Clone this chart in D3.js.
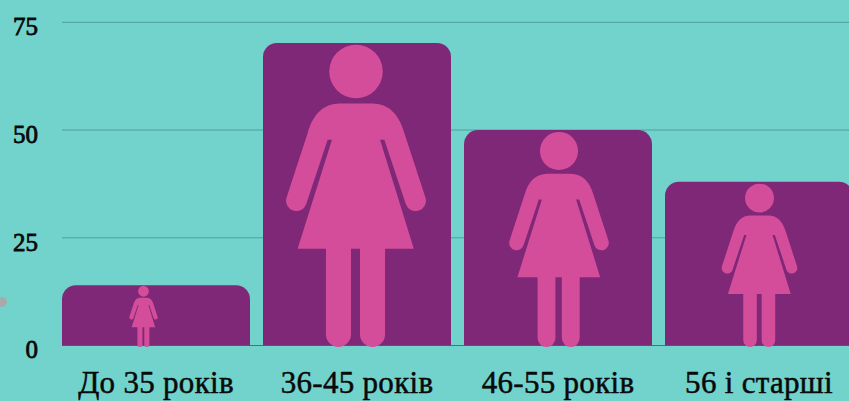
<!DOCTYPE html>
<html>
  <head>
    <meta charset="utf-8">
    <title>Вік</title>
    <script src="https://d3js.org/d3.v7.min.js"></script>
    <style>
      html, body { margin: 0; padding: 0; background: #72d3cd; overflow: hidden; }
      text { font-family: "Liberation Serif", serif; fill: #0a0a0a; stroke: #0a0a0a; }
      .domain { display: none; }
    </style>
  </head>
  <body>
    <svg id="chart" width="849" height="401"></svg>
    <script>
      // values
      const ageGroups = ["До 35 років", "36-45 років", "46-55 років", "56 і старші"];
      const shares = [14, 70.2, 50, 38];
      const yTicks = [0, 25, 50, 75];

      const svg = d3.select("#chart");

      const x = d3.scaleBand()
        .domain(ageGroups)
        .range([62, 853])
        .paddingInner(13 / 201)
        .paddingOuter(0);

      const y = d3.scaleLinear()
        .domain([0, 75])
        .range([345.5, 22.3]);

      // stray grey dot on the left edge
      svg.append("circle")
        .attr("cx", 2)
        .attr("cy", 302)
        .attr("r", 5)
        .style("fill", "#a9a9a9");

      // gridlines
      svg.append("g")
        .selectAll("line")
        .data(yTicks)
        .join("line")
          .attr("x1", 62)
          .attr("x2", 849)
          .attr("y1", d => y(d))
          .attr("y2", d => y(d))
          .style("stroke", d => d === 0 ? "#2f7f7c" : "#4f9f9e")
          .style("stroke-width", 1);

      // bars with rounded tops
      function barPath(d, i) {
        const p = d3.path();
        const r = 14;
        const x0 = x(ageGroups[i]);
        const x1 = x0 + x.bandwidth();
        const top = y(d);
        p.moveTo(x0, y(0));
        p.lineTo(x0, top + r);
        p.arcTo(x0, top, x0 + r, top, r);
        p.lineTo(x1 - r, top);
        p.arcTo(x1, top, x1, top + r, r);
        p.lineTo(x1, y(0));
        p.closePath();
        return p.toString();
      }

      svg.append("g")
        .selectAll("path")
        .data(shares)
        .join("path")
          .attr("d", barPath)
          .style("fill", "#7f2878");

      // woman pictogram, drawn at 301.5 units tall and scaled to each bar
      const figureHeight = 301.5;
      const figure = "M-26.7,26.5a26.7,26.7 0 1,1 53.4,0a26.7,26.7 0 1,1 -53.4,0Z"
        + "M-16,58.5L16,58.5C33,58.5 43,70 48,87L69.3,152.3"
        + "A10.3,10.3 0 0,1 49.7,158.7L28.3,94.5L24,94.5L57.7,203.5"
        + "L29,203.5L29,289A12.5,12.5 0 0,1 4,289L4,203.5L-5,203.5L-5,289"
        + "A12.5,12.5 0 0,1 -30,289L-30,203.5L-58.3,203.5L-24,94.5L-28.3,94.5"
        + "L-49.7,158.7A10.3,10.3 0 0,1 -69.3,152.3L-48,87C-43,70 -33,58.5 -16,58.5Z";

      // figures don't sit exactly on their bar's centre, the first one least of all
      const figureShift = [-12.5, -1, 1, 0.5];

      svg.append("g")
        .selectAll("path")
        .data(shares)
        .join("path")
          .attr("d", figure)
          .attr("transform", function(d, i) {
            const top = y(d) + (i === 0 ? 0.7 : 2);
            const k = (y(0) + 1.5 - top) / figureHeight;
            const cx = x(ageGroups[i]) + x.bandwidth() / 2 + figureShift[i];
            return "translate(" + cx + "," + top + ") scale(" + k + ")";
          })
          .style("fill", "#d44d9b");

      // axes
      svg.append("g")
        .attr("transform", "translate(38,0)")
        .call(d3.axisLeft(y).tickValues(yTicks).tickSize(0).tickPadding(0))
        .call(g => g.selectAll("text")
          .attr("dy", "0.49em")
          .style("font-size", "25px")
          .style("font-family", "'Liberation Serif', serif")
          .style("stroke-width", 0.8));

      svg.append("g")
        .attr("transform", "translate(0,393)")
        .call(d3.axisBottom(x).tickSize(0).tickPadding(0))
        .call(g => g.selectAll("text")
          .attr("y", 0)
          .attr("dy", 0)
          .style("font-size", "31px")
          .style("letter-spacing", "0.3px")
          .style("font-family", "'Liberation Serif', serif")
          .style("stroke-width", 0.5));
    </script>
  </body>
</html>
